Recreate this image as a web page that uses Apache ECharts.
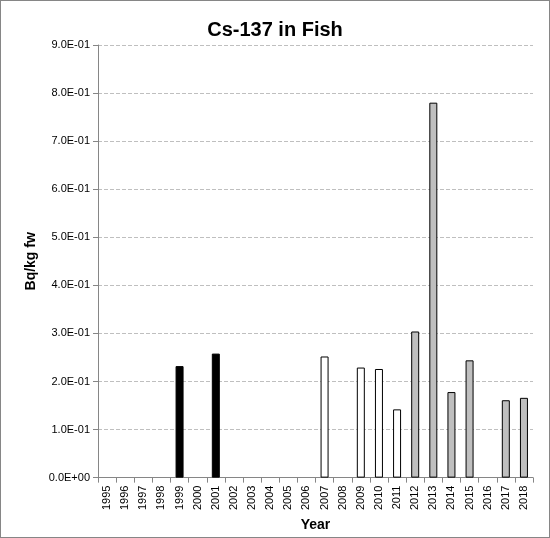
<!DOCTYPE html>
<html><head><meta charset="utf-8">
<script src="https://cdn.jsdelivr.net/npm/echarts@6/dist/echarts.min.js"></script>
<style>html,body{margin:0;padding:0;background:#fff}#c{width:548px;height:536px;border:1px solid #868686}</style>
</head><body><div id="c"></div>
<script>
const years = ['1995','1996','1997','1998','1999','2000','2001','2002','2003','2004','2005','2006','2007','2008','2009','2010','2011','2012','2013','2014','2015','2016','2017','2018'];
const values = [null,null,null,null,0.232,null,0.258,null,null,null,null,null,0.252,null,0.229,0.226,0.142,0.304,0.780,0.178,0.244,null,0.161,0.166];
const groups = ['','','','','a','','a','','','','','','b','','b','b','b','c','c','c','c','','c','c'];
const yTicks = [0,0.1,0.2,0.3,0.4,0.5,0.6,0.7,0.8,0.9];
const fills = {a:'#000000', b:'#ffffff', c:'#bfbfbf'};
const chart = echarts.init(document.getElementById('c'));
function fmt(v){ if(v===0) return '0.0E+00'; const e=Math.floor(Math.log10(v)+1e-9); const m=v/Math.pow(10,e); return m.toFixed(1)+'E'+(e<0?'-':'+')+String(Math.abs(e)).padStart(2,'0'); }
chart.setOption({
  animation:false,
  title:{text:'Cs-137 in Fish',left:'center',top:14,textStyle:{fontFamily:'Liberation Sans',fontSize:20,fontWeight:'bold',color:'#000'}},
  grid:{left:97,right:16,top:44,bottom:56},
  xAxis:{type:'category',data:years,name:'Year',nameLocation:'middle',nameGap:40,
    nameTextStyle:{fontFamily:'Liberation Sans',fontWeight:'bold',fontSize:14,color:'#000'},
    axisLine:{lineStyle:{color:'#868686'}},axisTick:{show:true,alignWithLabel:false,lineStyle:{color:'#868686'}},
    axisLabel:{rotate:90,interval:0,fontFamily:'Liberation Sans',fontSize:11,color:'#000'}},
  yAxis:{type:'value',min:0,max:0.9,interval:0.1,name:'Bq/kg fw',nameLocation:'middle',nameGap:60,
    nameTextStyle:{fontFamily:'Liberation Sans',fontWeight:'bold',fontSize:14,color:'#000'},
    axisLine:{show:true,lineStyle:{color:'#868686'}},axisTick:{show:true,lineStyle:{color:'#868686'}},
    axisLabel:{formatter:v=>fmt(yTicks.reduce((a,b)=>Math.abs(b-v)<Math.abs(a-v)?b:a)),fontFamily:'Liberation Sans',fontSize:11,color:'#000'},
    splitLine:{lineStyle:{color:'#bfbfbf',type:'dashed'}}},
  series:[{type:'bar',barWidth:8,
    data:values.map((v,i)=>({value:v,itemStyle:{color:fills[groups[i]]||'#fff',borderColor:'#000',borderWidth:1}}))}]
});
</script></body></html>
